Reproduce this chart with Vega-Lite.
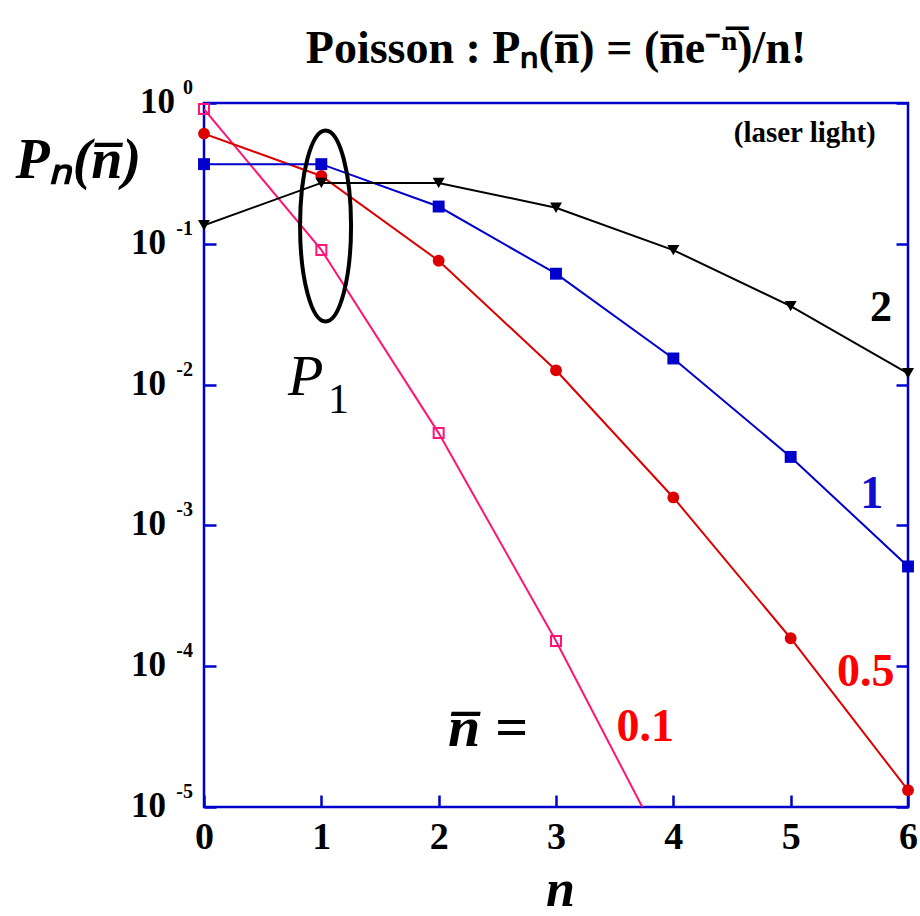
{
  "$schema": "https://vega.github.io/schema/vega-lite/v6.json",
  "width": 704,
  "height": 704,
  "autosize": "none",
  "padding": {"left": 204, "top": 103, "right": 12, "bottom": 109},
  "background": "white",
  "config": {
    "font": "Liberation Serif",
    "view": {"stroke": "#0000cc", "strokeWidth": 2.5},
    "axis": {"grid": false, "domain": false, "tickColor": "#0000cc", "tickWidth": 2.5, "tickSize": -12, "labelOverlap": false, "labelBound": false, "labelFlush": false}
  },
  "title": {
    "text": "Poisson : Pₙ(n̅) =  (n̅e⁻ⁿ̅)/n!",
    "frame": "group",
    "anchor": "middle",
    "baseline": "alphabetic",
    "offset": -31,
    "font": "Liberation Serif",
    "fontSize": 46,
    "fontWeight": "bold",
    "color": "black"
  },
  "datasets": {
    "poisson": [
      {"series": "0.1", "n": 0, "p": 0.904837},
      {"series": "0.1", "n": 1, "p": 0.0904837},
      {"series": "0.1", "n": 2, "p": 0.00452419},
      {"series": "0.1", "n": 3, "p": 0.000150806},
      {"series": "0.1", "n": 4, "p": 0.00000377016},
      {"series": "0.5", "n": 0, "p": 0.606531},
      {"series": "0.5", "n": 1, "p": 0.303265},
      {"series": "0.5", "n": 2, "p": 0.0758163},
      {"series": "0.5", "n": 3, "p": 0.0126361},
      {"series": "0.5", "n": 4, "p": 0.00157951},
      {"series": "0.5", "n": 5, "p": 0.000157951},
      {"series": "0.5", "n": 6, "p": 0.0000131626},
      {"series": "1", "n": 0, "p": 0.367879},
      {"series": "1", "n": 1, "p": 0.367879},
      {"series": "1", "n": 2, "p": 0.18394},
      {"series": "1", "n": 3, "p": 0.0613132},
      {"series": "1", "n": 4, "p": 0.0153283},
      {"series": "1", "n": 5, "p": 0.00306566},
      {"series": "1", "n": 6, "p": 0.000510944},
      {"series": "2", "n": 0, "p": 0.135335},
      {"series": "2", "n": 1, "p": 0.270671},
      {"series": "2", "n": 2, "p": 0.270671},
      {"series": "2", "n": 3, "p": 0.180447},
      {"series": "2", "n": 4, "p": 0.0902235},
      {"series": "2", "n": 5, "p": 0.0360894},
      {"series": "2", "n": 6, "p": 0.0120298}
    ],
    "decades": [
      {"p": 1, "exponent": "0"},
      {"p": 0.1, "exponent": "-1"},
      {"p": 0.01, "exponent": "-2"},
      {"p": 0.001, "exponent": "-3"},
      {"p": 0.0001, "exponent": "-4"},
      {"p": 0.00001, "exponent": "-5"}
    ],
    "one": [{}]
  },
  "resolve": {"axis": {"y": "independent"}},
  "layer": [
    {
      "data": {"name": "poisson"},
      "mark": {"type": "line", "clip": true, "strokeWidth": 2},
      "encoding": {
        "x": {
          "field": "n", "type": "quantitative",
          "scale": {"domain": [0, 6], "nice": false, "zero": false},
          "axis": {
            "orient": "bottom", "values": [0, 1, 2, 3, 4, 5, 6], "format": "d",
            "labelFont": "Liberation Serif", "labelFontSize": 38, "labelFontWeight": "bold", "labelColor": "black",
            "labelBaseline": "alphabetic", "labelPadding": 53,
            "title": "n", "titleFont": "Liberation Serif", "titleFontSize": 52, "titleFontWeight": "bold", "titleFontStyle": "italic", "titleColor": "black",
            "titleX": 356, "titleY": 98, "titleAlign": "center", "titleBaseline": "alphabetic"
          }
        },
        "y": {
          "field": "p", "type": "quantitative",
          "scale": {"type": "log", "domain": [0.00001, 1], "nice": false},
          "axis": {
            "orient": "left", "values": [1, 0.1, 0.01, 0.001, 0.0001, 0.00001],
            "labels": false,
            "title": "Pₙ(n̅)", "titleFont": "Liberation Serif", "titleFontSize": 56, "titleFontWeight": "bold", "titleFontStyle": "italic", "titleColor": "black",
            "titleAngle": 0, "titleAlign": "left", "titleBaseline": "alphabetic", "titleX": -189, "titleY": 74
          }
        },
        "color": {
          "field": "series", "type": "nominal",
          "scale": {"domain": ["0.1", "0.5", "1", "2"], "range": ["#ff1478", "#dd0000", "#0000cc", "#000000"]},
          "legend": null
        }
      }
    },
    {
      "data": {"name": "poisson"},
      "transform": [{"filter": "datum.series == '0.1' && datum.p >= 0.00001"}],
      "mark": {"type": "point", "shape": "square", "filled": false, "stroke": "#ff1478", "strokeWidth": 2, "size": 100, "opacity": 1},
      "encoding": {
        "x": {"field": "n", "type": "quantitative"},
        "y": {
          "field": "p", "type": "quantitative",
          "axis": {"orient": "right", "values": [1, 0.1, 0.01, 0.001, 0.0001, 0.00001], "labels": false, "title": null}
        }
      }
    },
    {
      "data": {"name": "poisson"},
      "transform": [{"filter": "datum.series != '0.1'"}],
      "mark": {"type": "point", "filled": true, "opacity": 1},
      "encoding": {
        "x": {"field": "n", "type": "quantitative"},
        "y": {"field": "p", "type": "quantitative", "axis": null},
        "color": {"field": "series", "type": "nominal", "legend": null},
        "shape": {
          "field": "series", "type": "nominal",
          "scale": {"domain": ["0.5", "1", "2"], "range": ["circle", "square", "triangle-down"]},
          "legend": null
        },
        "size": {
          "field": "series", "type": "nominal",
          "scale": {"domain": ["0.5", "1", "2"], "range": [140, 144, 130]},
          "legend": null
        }
      }
    },
    {
      "data": {"name": "decades"},
      "transform": [{"filter": "datum.p == 1"}],
      "mark": {"type": "text", "text": "10", "align": "right", "baseline": "alphabetic", "dx": -29, "dy": 10, "fontSize": 35, "fontWeight": "bold", "color": "black"},
      "encoding": {
        "x": {"datum": 0},
        "y": {"field": "p", "type": "quantitative", "axis": null}
      }
    },
    {
      "data": {"name": "decades"},
      "transform": [{"filter": "datum.p < 1"}],
      "mark": {"type": "text", "text": "10", "align": "right", "baseline": "alphabetic", "dx": -38, "dy": 10, "fontSize": 35, "fontWeight": "bold", "color": "black"},
      "encoding": {
        "x": {"datum": 0},
        "y": {"field": "p", "type": "quantitative", "axis": null}
      }
    },
    {
      "data": {"name": "decades"},
      "mark": {"type": "text", "align": "right", "baseline": "alphabetic", "dx": -11, "dy": -9, "fontSize": 20, "fontWeight": "bold", "color": "black"},
      "encoding": {
        "x": {"datum": 0},
        "y": {"field": "p", "type": "quantitative", "axis": null},
        "text": {"field": "exponent"}
      }
    },
    {
      "data": {"name": "one"},
      "mark": {"type": "point", "shape": "M 0 -1 C 0.1475 -1 0.267 -0.5523 0.267 0 C 0.267 0.5523 0.1475 1 0 1 C -0.1475 1 -0.267 0.5523 -0.267 0 C -0.267 -0.5523 -0.1475 -1 0 -1 Z", "filled": false, "stroke": "black", "strokeWidth": 4, "size": 36481, "opacity": 1},
      "encoding": {"x": {"datum": 1.036}, "y": {"datum": 0.134, "axis": null}}
    },
    {
      "data": {"name": "one"},
      "mark": {"type": "text", "text": "P", "align": "left", "baseline": "alphabetic", "fontSize": 58, "fontStyle": "italic", "color": "black"},
      "encoding": {"x": {"datum": 0.716}, "y": {"datum": 0.00838, "axis": null}}
    },
    {
      "data": {"name": "one"},
      "mark": {"type": "text", "text": "1", "align": "left", "baseline": "alphabetic", "fontSize": 42, "color": "black"},
      "encoding": {"x": {"datum": 1.057}, "y": {"datum": 0.00632, "axis": null}}
    },
    {
      "data": {"name": "one"},
      "mark": {"type": "text", "text": "(laser light)", "align": "center", "baseline": "alphabetic", "fontSize": 29, "fontWeight": "bold", "color": "black"},
      "encoding": {"x": {"datum": 5.12}, "y": {"datum": 0.528, "axis": null}}
    },
    {
      "data": {"name": "one"},
      "mark": {"type": "text", "text": "2", "align": "center", "baseline": "middle", "fontSize": 44, "fontWeight": "bold", "color": "black"},
      "encoding": {"x": {"datum": 5.77}, "y": {"datum": 0.0348, "axis": null}}
    },
    {
      "data": {"name": "one"},
      "mark": {"type": "text", "text": "1", "align": "center", "baseline": "middle", "fontSize": 46, "fontWeight": "bold", "color": "#1010cc"},
      "encoding": {"x": {"datum": 5.69}, "y": {"datum": 0.00166, "axis": null}}
    },
    {
      "data": {"name": "one"},
      "mark": {"type": "text", "text": "0.5", "align": "center", "baseline": "middle", "fontSize": 46, "fontWeight": "bold", "color": "#ff0000"},
      "encoding": {"x": {"datum": 5.64}, "y": {"datum": 0.000091, "axis": null}}
    },
    {
      "data": {"name": "one"},
      "mark": {"type": "text", "text": "0.1", "align": "center", "baseline": "middle", "fontSize": 46, "fontWeight": "bold", "color": "#ff0000"},
      "encoding": {"x": {"datum": 3.76}, "y": {"datum": 0.000037, "axis": null}}
    },
    {
      "data": {"name": "one"},
      "mark": {"type": "text", "text": "n̅ =", "align": "center", "baseline": "alphabetic", "fontSize": 58, "fontWeight": "bold", "fontStyle": "italic", "color": "black"},
      "encoding": {"x": {"datum": 2.42}, "y": {"datum": 0.0000272, "axis": null}}
    }
  ]
}
